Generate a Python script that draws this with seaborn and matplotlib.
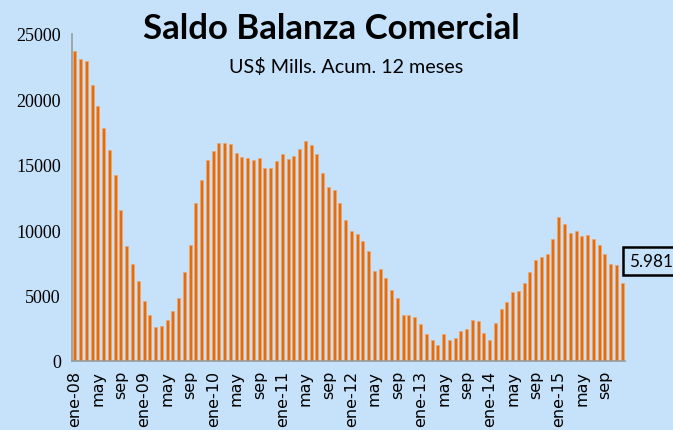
import numpy as np
import pandas as pd
import matplotlib
matplotlib.use("Agg")
import matplotlib.pyplot as plt
import seaborn as sns

# Saldo balanza comercial, US$ millones acumulado 12 meses (ene-08 .. dic-15)
years = ["08", "09", "10", "11", "12", "13", "14", "15"]
month_names = ["ene", "feb", "mar", "abr", "may", "jun",
               "jul", "ago", "sep", "oct", "nov", "dic"]
saldo = [
    23700, 23100, 22950, 21090, 19480, 17800, 16120, 14200, 11550, 8800, 7420, 6100,
    4570, 3500, 2580, 2650, 3140, 3800, 4850, 6780, 8870, 12090, 13850, 15350,
    16040, 16700, 16700, 16620, 15940, 15610, 15530, 15350, 15530, 14760, 14760, 15270,
    15790, 15450, 15710, 16220, 16800, 16550, 15790, 14360, 13340, 13080, 12060, 10810,
    9970, 9720, 9200, 8440, 6860, 7010, 6350, 5410, 4820, 3500, 3500, 3390,
    2800, 2040, 1630, 1200, 2040, 1630, 1790, 2300, 2470, 3140, 3060, 2140,
    1630, 2910, 4000, 4490, 5250, 5360, 5940, 6790, 7700, 7960, 8210, 9310,
    10990, 10480, 9820, 9970, 9560, 9640, 9310, 8870, 8210, 7440, 7370, 5981,
]
y_ticks = [0, 5000, 10000, 15000, 20000, 25000]

periods = [f"{m}-{y}" for y in years for m in month_names]
df = pd.DataFrame({"periodo": periods, "saldo": saldo})

# tick labels: ene-YY, may, sep; the rest blank
tick_labels = []
for p in periods:
    m = p.split("-")[0]
    if m == "ene":
        tick_labels.append(p)
    elif m in ("may", "sep"):
        tick_labels.append(m)
    else:
        tick_labels.append("")

bg = "#C6E2FB"
bar_color = "#E46C0A"
axis_gray = "#9A9A9A"

sns.set_style("white")
plt.rcParams["font.family"] = ["DejaVu Sans"]
plt.rcParams["font.serif"] = ["Liberation Serif", "Times New Roman", "DejaVu Serif"]
plt.rcParams["text.color"] = "black"
plt.rcParams["xtick.color"] = "black"
plt.rcParams["ytick.color"] = "black"
plt.rcParams["ytick.labelsize"] = 13
plt.rcParams["xtick.labelsize"] = 11.5

fig = plt.figure(figsize=(6.73, 4.31), dpi=100, facecolor=bg)
ax = fig.add_axes([72 / 673, 69 / 431, 553 / 673, 327 / 431])
ax.set_facecolor(bg)

sns.barplot(data=df, x="periodo", y="saldo", order=periods, color=bar_color,
            width=0.52, edgecolor="#F2A468", linewidth=0.5, saturation=1, ax=ax)

ax.set_xlim(-0.5, len(periods) - 0.5)
ax.set_ylim(0, 25000)
ax.set_xlabel("")
ax.set_ylabel("")
ax.set_yticks(y_ticks)
ax.set_yticklabels([str(v) for v in y_ticks])
ax.set_xticks(range(len(periods)))
ax.set_xticklabels(tick_labels, rotation=90)

for s in ("top", "right"):
    ax.spines[s].set_visible(False)
for s in ("left", "bottom"):
    ax.spines[s].set_color(axis_gray)
    ax.spines[s].set_linewidth(1.2)
ax.tick_params(axis="both", which="major", direction="out", length=5,
               width=1, color=axis_gray, labelcolor="black")
ax.tick_params(axis="x", pad=1.5, labelsize=11.5)
ax.tick_params(axis="y", pad=3, labelsize=13, labelfontfamily="serif")
ax.grid(False)

fig.text(331 / 673, 1 - 29 / 431, "Saldo Balanza Comercial", ha="center", va="center",
         fontsize=25, fontweight="bold", color="black", family=["Lato", "DejaVu Sans"])
fig.text(346 / 673, 1 - 67 / 431, "US$ Mills. Acum. 12 meses", ha="center", va="center",
         fontsize=14.2, color="black", family=["Lato", "DejaVu Sans"])

last_label = f"{saldo[-1]:,}".replace(",", ".")
fig.text(629 / 673, 1 - 262 / 431, last_label, ha="left", va="center", fontsize=12.3,
         color="black", family=["Lato", "DejaVu Sans"],
         bbox=dict(boxstyle="square,pad=0.35", facecolor=bg, edgecolor="black", linewidth=1.8))

fig.canvas.draw()
for lbl in ax.get_yticklabels():
    lbl.set_fontfamily("serif")
    lbl.set_fontsize(13)

fig.savefig("out.png", dpi=100, facecolor=bg)
